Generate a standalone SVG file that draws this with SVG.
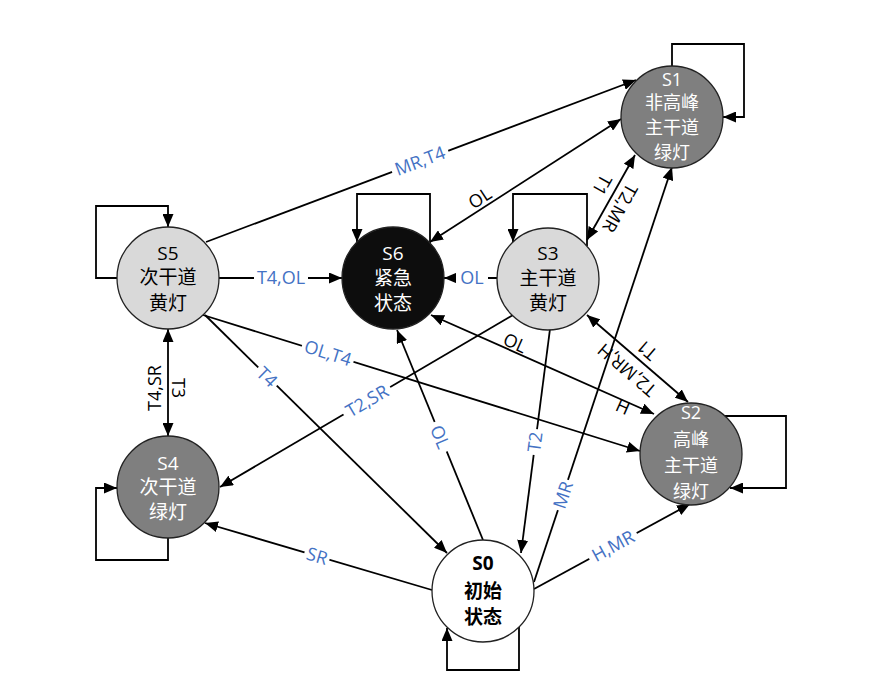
<svg xmlns="http://www.w3.org/2000/svg" width="870" height="700" viewBox="0 0 870 700">
  <defs>
    <marker id="arrow" markerUnits="userSpaceOnUse" markerWidth="14" markerHeight="11" refX="13" refY="5.5" orient="auto-start-reverse">
      <path d="M0,0 L13,5.5 L0,11 z" fill="#000"/>
    </marker>
    <style>
      .edge { fill: none; stroke: #000; stroke-width: 1.8; }
      .arr { marker-end: url(#arrow); }
      .both { marker-start: url(#arrow); marker-end: url(#arrow); }
      .node circle { stroke: #222; stroke-width: 1.3; }
      .node text { font-family: "Open Sans", "Noto Sans CJK SC", sans-serif; font-size: 19px; text-anchor: middle; }
      .node.tall text { font-size: 18px; }
      .dark circle { fill: #7f7f7f; }
      .dark text { fill: #fff; }
      .light circle { fill: #d9d9d9; }
      .light text { fill: #000; }
      .black circle { fill: #0d0d0d; }
      .black text { fill: #fff; }
      .start circle { fill: #fff; }
      .start text { fill: #000; font-weight: bold; }
      .lbl { font-family: "Open Sans", "Noto Sans", sans-serif; font-size: 18px; text-anchor: middle; }
      .blue { fill: #4472c4; }
      .blk { fill: #000; }
      .bg { fill: #fff; }
    </style>
  </defs>

  <!-- connectors -->
  <g id="connectors">
    <!-- self loops -->
    <path class="edge arr" d="M672,66 V44 H744 V117 H723"/>
    <path class="edge arr" d="M725,416 H786 V488 H730"/>
    <path class="edge arr" d="M587,246 V194 H513 V242"/>
    <path class="edge arr" d="M430,243 V194 H357 V242"/>
    <path class="edge arr" d="M117,278 H96 V206 H168 V227"/>
    <path class="edge arr" d="M168,538 V560 H96 V488 H117"/>
    <path class="edge arr" d="M519,627 V670 H447 V628"/>

    <!-- transitions -->
    <path class="edge arr" d="M206,242 L636,80"/>
    <path class="edge both" d="M430,242 L621,119"/>
    <path class="edge arr" d="M219,278 H342"/>
    <path class="edge arr" d="M498,278 H444"/>
    <path class="edge both" d="M635,155 L587,240"/>
    <path class="edge both" d="M587,315 L688,402"/>
    <path class="edge both" d="M654,414 L431,315"/>
    <path class="edge arr" d="M203,315 L640,451"/>
    <path class="edge both" d="M168,329 V436"/>
    <path class="edge arr" d="M205,315 L447,553"/>
    <path class="edge arr" d="M513,315 L220,487"/>
    <path class="edge arr" d="M483,540 L397,330"/>
    <path class="edge arr" d="M550,329 L521,553"/>
    <path class="edge arr" d="M534,582 L672,167"/>
    <path class="edge arr" d="M534,589 L690,504"/>
    <path class="edge arr" d="M432,590 L205,523"/>

    <!-- labels sitting on a line (white box breaks the line) -->
    <g transform="translate(420,161) rotate(-20.6)"><rect class="bg" x="-30" y="-9" width="60" height="18"/><text class="lbl blue" dy="0.35em">MR,T4</text></g>
    <g transform="translate(281,278)"><rect class="bg" x="-27" y="-9" width="54" height="18"/><text class="lbl blue" dy="0.35em">T4,OL</text></g>
    <g transform="translate(472,278)"><rect class="bg" x="-16" y="-9" width="32" height="18"/><text class="lbl blue" dy="0.35em">OL</text></g>
    <g transform="translate(328,353) rotate(17.3)"><rect class="bg" x="-27" y="-9" width="54" height="18"/><text class="lbl blue" dy="0.35em">OL,T4</text></g>
    <g transform="translate(267,377) rotate(44.5)"><rect class="bg" x="-13" y="-9" width="26" height="18"/><text class="lbl blue" dy="0.35em">T4</text></g>
    <g transform="translate(367,401) rotate(-30.4)"><rect class="bg" x="-27" y="-9" width="54" height="18"/><text class="lbl blue" dy="0.35em">T2,SR</text></g>
    <g transform="translate(440,437) rotate(67.6)"><rect class="bg" x="-16" y="-9" width="32" height="18"/><text class="lbl blue" dy="0.35em">OL</text></g>
    <g transform="translate(535,442) rotate(-82.6)"><rect class="bg" x="-13" y="-9" width="26" height="18"/><text class="lbl blue" dy="0.35em">T2</text></g>
    <g transform="translate(563,495) rotate(-71.6)"><rect class="bg" x="-16" y="-9" width="32" height="18"/><text class="lbl blue" dy="0.35em">MR</text></g>
    <g transform="translate(613,546) rotate(-28.6)"><rect class="bg" x="-27" y="-9" width="54" height="18"/><text class="lbl blue" dy="0.35em">H,MR</text></g>
    <g transform="translate(317,556) rotate(16.4)"><rect class="bg" x="-13" y="-9" width="26" height="18"/><text class="lbl blue" dy="0.35em">SR</text></g>

    <!-- labels beside a line -->
    <text class="lbl blk" transform="translate(480,198) rotate(-32.8)" dy="0.35em">OL</text>
    <text class="lbl blk" transform="translate(602,185) rotate(119.5)" dy="0.35em">T1</text>
    <text class="lbl blk" transform="translate(620,208) rotate(119.5)" dy="0.35em">T2,MR</text>
    <text class="lbl blk" transform="translate(647,350) rotate(220.7)" dy="0.35em">T1</text>
    <text class="lbl blk" transform="translate(627,370) rotate(220.7)" dy="0.35em">T2,MR,H</text>
    <text class="lbl blk" transform="translate(515,343) rotate(23.9)" dy="0.35em">OL</text>
    <text class="lbl blk" transform="translate(623,407) rotate(23.9)" dy="0.35em">H</text>
    <text class="lbl blk" transform="translate(155,388) rotate(-90)" dy="0.35em">T4,SR</text>
    <text class="lbl blk" transform="translate(178,388) rotate(90)" dy="0.35em">T3</text>
  </g>

  <!-- states -->
  <g id="S0" class="node start">
    <circle cx="483" cy="591" r="51"/>
    <text x="483" y="570">S0</text>
    <text x="483" y="598">初始</text>
    <text x="483" y="624">状态</text>
  </g>
  <g id="S1" class="node dark tall">
    <circle cx="672" cy="117" r="51"/>
    <text x="672" y="86">S1</text>
    <text x="672" y="109">非高峰</text>
    <text x="672" y="134">主干道</text>
    <text x="672" y="159">绿灯</text>
  </g>
  <g id="S2" class="node dark tall">
    <circle cx="691" cy="454" r="51"/>
    <text x="691" y="419">S2</text>
    <text x="691" y="446">高峰</text>
    <text x="691" y="472">主干道</text>
    <text x="691" y="498">绿灯</text>
  </g>
  <g id="S3" class="node light">
    <circle cx="548" cy="279" r="51"/>
    <text x="548" y="260">S3</text>
    <text x="548" y="285">主干道</text>
    <text x="548" y="310">黄灯</text>
  </g>
  <g id="S4" class="node dark">
    <circle cx="168" cy="487" r="51"/>
    <text x="168" y="470">S4</text>
    <text x="168" y="494">次干道</text>
    <text x="168" y="519">绿灯</text>
  </g>
  <g id="S5" class="node light">
    <circle cx="168" cy="278" r="51"/>
    <text x="168" y="260">S5</text>
    <text x="168" y="284">次干道</text>
    <text x="168" y="310">黄灯</text>
  </g>
  <g id="S6" class="node black">
    <circle cx="393" cy="278" r="51"/>
    <text x="393" y="260">S6</text>
    <text x="393" y="285">紧急</text>
    <text x="393" y="310">状态</text>
  </g>
</svg>
